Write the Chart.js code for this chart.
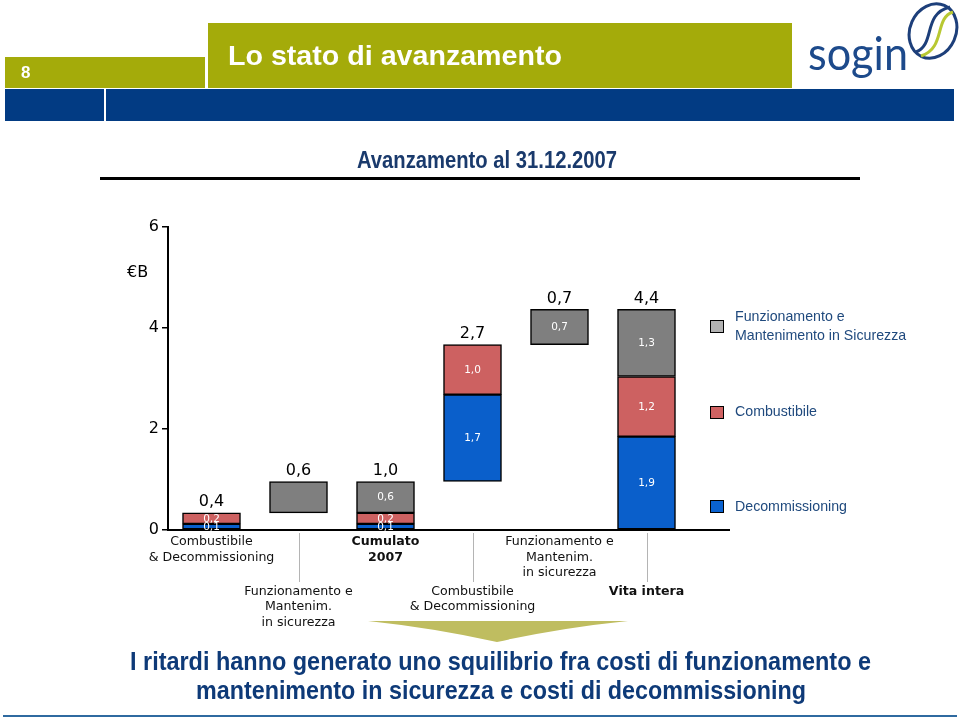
<!DOCTYPE html>
<html>
<head>
<meta charset="utf-8">
<script src="https://cdn.jsdelivr.net/npm/chart.js@4.4.0/dist/chart.umd.min.js"></script>
<style>
html,body{margin:0;padding:0;background:#fff;}
#wrap{position:relative;width:960px;height:721px;overflow:hidden;font-family:"Liberation Sans",Arial,sans-serif;}
#c{position:absolute;left:0;top:0;}
.abs{position:absolute;}
.txt{position:absolute;white-space:nowrap;transform-origin:left center;}
.box{position:absolute;box-sizing:border-box;border:1.5px solid #000;width:14px;height:13px;}
.leg{position:absolute;left:735px;font-size:14.2px;line-height:19px;color:#1f497d;white-space:nowrap;}
</style>
</head>
<body>
<div id="wrap">
  <canvas id="c" width="960" height="721"></canvas>

  <!-- header -->
  <div class="abs" style="left:5px;top:57px;width:200px;height:31px;background:#a4ab0a"></div>
  <div class="abs" style="left:208px;top:23px;width:584px;height:65px;background:#a4ab0a"></div>
  <div class="abs" style="left:5px;top:89px;width:99px;height:32px;background:#023b83"></div>
  <div class="abs" style="left:106px;top:89px;width:848px;height:32px;background:#023b83"></div>
  <div class="txt" id="pg" style="left:21px;top:63px;line-height:20px;font-size:17px;font-weight:bold;color:#fff">8</div>
  <div class="txt" id="title" style="left:228px;top:39px;line-height:34px;font-size:27px;font-weight:bold;color:#fff">Lo stato di avanzamento</div>

  <!-- logo -->
  <div class="txt" id="logo" style="left:808px;top:28px;line-height:50px;font-size:46px;font-family:Lato,'Open Sans',sans-serif;color:#1d4a8b">sogin</div>
  <svg class="abs" style="left:0;top:0" width="960" height="721" viewBox="0 0 960 721">
    <ellipse cx="933" cy="31" rx="23" ry="28" transform="rotate(24 933 31)" fill="none" stroke="#1d3f7a" stroke-width="3"/>
    <path d="M916,52 C936,44 922,14 950,7" fill="none" stroke="#1d3f7a" stroke-width="3"/>
    <path d="M921,56 C946,48 934,18 953,12" fill="none" stroke="#b8c832" stroke-width="3"/>
    <!-- subtitle rule -->
    <rect x="100" y="177" width="760" height="3" fill="#000"/>
    <!-- arrow -->
    <path d="M368,621 L628,621 Q560,628 497,642 Q434,628 368,621 Z" fill="#bfbd60"/>
    <!-- bottom rule -->
    <rect x="3" y="715" width="954" height="2" fill="#2f6aa0"/>
  </svg>

  <div class="txt" id="sub" style="left:357px;top:146px;line-height:28px;font-size:23px;font-weight:bold;color:#1a3a6c">Avanzamento al 31.12.2007</div>

  <div class="txt" style="left:127px;top:261px;line-height:22px;font-size:16px;font-family:'DejaVu Sans',sans-serif;color:#000">€B</div>

  <!-- legend -->
  <div class="box" style="left:710px;top:320px;background:#b2b2b2"></div>
  <div class="leg" style="top:307px">Funzionamento e<br>Mantenimento in Sicurezza</div>
  <div class="box" style="left:710px;top:406px;background:#d06262"></div>
  <div class="leg" style="top:402px">Combustibile</div>
  <div class="box" style="left:710px;top:500px;background:#0a62d0"></div>
  <div class="leg" style="top:497px">Decommissioning</div>

  <!-- conclusion -->
  <div class="txt" id="b1" style="left:130px;top:646px;line-height:30px;font-size:25px;font-weight:bold;color:#0e3a78">I ritardi hanno generato uno squilibrio fra costi di funzionamento e</div>
  <div class="txt" id="b2" style="left:196px;top:675px;line-height:30px;font-size:25px;font-weight:bold;color:#0e3a78">mantenimento in sicurezza e costi di decommissioning</div>
</div>

<script>
// ---------------- data ----------------
const categoryLines = [
  ['Combustibile', '& Decommissioning'],
  ['Funzionamento e', 'Mantenim.', 'in sicurezza'],
  ['Cumulato', '2007'],
  ['Combustibile', '& Decommissioning'],
  ['Funzionamento e', 'Mantenim.', 'in sicurezza'],
  ['Vita intera']
];
const categoryRow  = [0, 1, 0, 1, 0, 1];
const categoryBold = [false, false, true, false, false, true];

// start level of each (floating) bar
const barBase        = [0, 0.34, 0, 0.96, 3.67, 0];
// segment heights (bn €)
const decommissioning = [0.12, null, 0.12, 1.72, null, 1.85];
const combustibile    = [0.22, null, 0.22, 0.99, null, 1.19];
const funzionamento   = [null, 0.62, 0.62, null, 0.70, 1.33];
// printed labels
const decomLabels = ['0,1', '', '0,1', '1,7', '', '1,9'];
const combLabels  = ['0,2', '', '0,2', '1,0', '', '1,2'];
const funzLabels  = ['', '', '0,6', '', '0,7', '1,3'];
const totalLabels = ['0,4', '0,6', '1,0', '2,7', '0,7', '4,4'];
const yTicks = [0, 2, 4, 6];

// ---------------- build floating segments ----------------
const level = barBase.slice();
function segments(vals) {
  return vals.map((v, i) => {
    if (v == null) return null;
    const s = [level[i], level[i] + v];
    level[i] += v;
    return s;
  });
}
const decomSeg = segments(decommissioning);
const combSeg  = segments(combustibile);
const funzSeg  = segments(funzionamento);

const common = {borderColor: '#000', borderWidth: 1.5, borderSkipped: false, barThickness: 58, grouped: false};

const labelsPlugin = {
  id: 'labelsPlugin',
  afterDatasetsDraw(chart) {
    const ctx = chart.ctx, xs = chart.scales.x, ys = chart.scales.y, area = chart.chartArea;
    const y0 = ys.getPixelForValue(0);
    ctx.save();
    // extend category axis line under the legend
    ctx.strokeStyle = '#000'; ctx.lineWidth = 2;
    ctx.beginPath(); ctx.moveTo(area.right - 2, y0); ctx.lineTo(730, y0); ctx.stroke();

    ctx.textAlign = 'center'; ctx.textBaseline = 'middle';
    // inner labels
    ctx.font = '10.5px "DejaVu Sans"'; ctx.fillStyle = '#fff';
    chart.data.datasets.forEach((ds, di) => {
      const meta = chart.getDatasetMeta(di);
      meta.data.forEach((el, i) => {
        if (ds.data[i] == null || !ds.segLabels[i]) return;
        ctx.fillText(ds.segLabels[i], el.x, (el.y + el.base) / 2 + 0.5);
      });
    });
    // totals
    ctx.font = '16px "DejaVu Sans"'; ctx.fillStyle = '#000';
    categoryLines.forEach((c, i) => {
      let top = Infinity;
      chart.data.datasets.forEach((ds, di) => {
        if (ds.data[i] == null) return;
        const el = chart.getDatasetMeta(di).data[i];
        top = Math.min(top, el.y, el.base);
      });
      ctx.fillText(totalLabels[i], xs.getPixelForValue(i), top - 10.5);
    });
    // category labels
    categoryLines.forEach((lines, i) => {
      const x = xs.getPixelForValue(i);
      const row = categoryRow[i];
      const firstY = y0 + (row ? 61.5 : 11.8);
      if (row) {
        ctx.strokeStyle = '#b4b4b4'; ctx.lineWidth = 1;
        ctx.beginPath(); ctx.moveTo(Math.round(x) + 0.5, y0 + 3); ctx.lineTo(Math.round(x) + 0.5, y0 + 52); ctx.stroke();
      }
      ctx.font = (categoryBold[i] ? 'bold ' : '') + '12.6px "DejaVu Sans"';
      ctx.fillStyle = '#111';
      lines.forEach((t, k) => ctx.fillText(t, x, firstY + k * 15.5));
    });
    ctx.restore();
  }
};

new Chart(document.getElementById('c'), {
  type: 'bar',
  data: {
    labels: categoryLines.map(l => l.join(' ')),
    datasets: [
      Object.assign({label: 'Decommissioning', data: decomSeg, backgroundColor: '#0a5fcb', segLabels: decomLabels}, common),
      Object.assign({label: 'Combustibile', data: combSeg, backgroundColor: '#cd6161', segLabels: combLabels}, common),
      Object.assign({label: 'Funzionamento e Mantenimento in Sicurezza', data: funzSeg, backgroundColor: '#7f7f7f', segLabels: funzLabels}, common)
    ]
  },
  options: {
    responsive: false,
    animation: false,
    layout: {padding: {left: 100, right: 270, top: 227, bottom: 191}},
    plugins: {legend: {display: false}, tooltip: {enabled: false}, title: {display: false}},
    scales: {
      x: {
        type: 'category', offset: true,
        grid: {display: false, drawTicks: false},
        ticks: {display: false},
        border: {display: true, color: '#000', width: 2},
        afterFit: s => { s.height = 0; }
      },
      y: {
        min: 0, max: 6,
        afterBuildTicks: s => { s.ticks = yTicks.map(v => ({value: v})); },
        ticks: {color: '#000', font: {family: 'DejaVu Sans', size: 16}, padding: 3},
        grid: {drawOnChartArea: false, drawTicks: true, tickLength: 6, color: '#000', lineWidth: 1.5},
        border: {display: true, color: '#000', width: 2},
        afterFit: s => { s.width = 68; }
      }
    }
  },
  plugins: [labelsPlugin]
});

// fit header / footer texts to the widths measured on the reference
function fit(id, w) {
  const el = document.getElementById(id);
  const nat = el.getBoundingClientRect().width;
  el.style.transform = 'scaleX(' + (w / nat) + ')';
}
fit('title', 334);
fit('sub', 260);
fit('b1', 741);
fit('b2', 610);
fit('logo', 100);
</script>
</body>
</html>
